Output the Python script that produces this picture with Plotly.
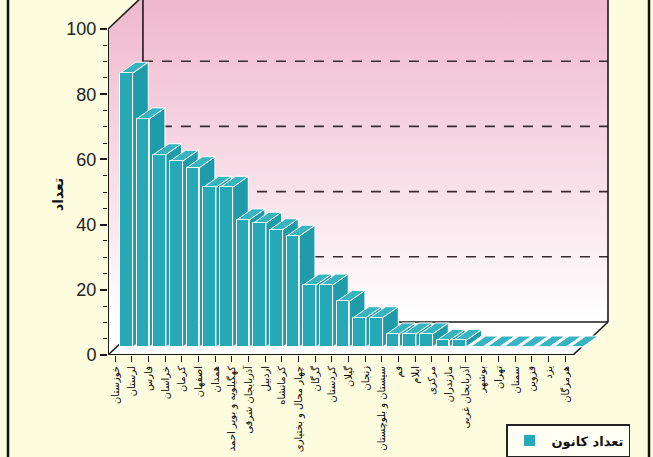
import plotly.graph_objects as go
from urllib.parse import quote

# ---------------- data ----------------
provinces = [
    "خوزستان", "لرستان", "فارس", "خراسان", "کرمان", "اصفهان", "همدان",
    "کهگیلویه و بویر احمد", "آذربایجان شرقی", "اردبیل", "کرمانشاه",
    "چهار محال و بختیاری", "گرگان", "کردستان", "گیلان", "زنجان",
    "سیستان و بلوچستان", "قم", "ایلام", "مرکزی", "مازندران",
    "آذربایجان غربی", "بوشهر", "تهران", "سمنان", "قزوین", "یزد", "هرمزگان",
]
counts = [84, 70, 59, 57, 55, 49, 49, 39, 38, 36, 34, 19, 19, 14, 9, 9,
          4, 4, 4, 2, 2, 0, 0, 0, 0, 0, 0, 0]
y_ticks = [0, 20, 40, 60, 80, 100]
wall_grid = [20, 40, 60, 80]
series_name = "تعداد کانون"
axis_title = "تعداد"

# ---------------- geometry / style ----------------
n = len(provinces)
xs = list(range(n))
X0, X1 = -1.098, 29.02
Y0, Y1 = 0.0, 108.9
BAR_W = 0.756
BASE = 2.45          # bars stand slightly behind the front edge of the floor
DX, DY = 0.94, 3.37  # depth offset of bar tops / sides
WALL_DX, WALL_DY = 2.096, 10.12
wall_left = X0 + WALL_DX
wall_right = 28.9
floor_front_right = wall_right - WALL_DX

CREAM = "#FEFCDE"
FRONT = "#25A9B7"
SIDE = "#1F9BA9"
TOP = "#38B4C1"
DARK = "#1a1a1a"

svg = ("<svg xmlns='http://www.w3.org/2000/svg' viewBox='0 0 100 100' "
       "preserveAspectRatio='none'><defs><linearGradient id='g' x1='0' y1='0' "
       "x2='0' y2='1'><stop offset='0' stop-color='#EFB7CB'/>"
       "<stop offset='0.35' stop-color='#F5D2DF'/>"
       "<stop offset='0.65' stop-color='#FAEAF0'/>"
       "<stop offset='0.9' stop-color='#FFFFFF'/></linearGradient></defs>"
       "<rect width='100' height='100' fill='url(#g)'/></svg>")
wall_src = "data:image/svg+xml;charset=utf-8," + quote(svg)


def poly(pts):
    return "M " + " L ".join(f"{a},{b}" for a, b in pts) + " Z"


shapes = []
# cream area above the left wall diagonal
shapes.append(dict(type="path", layer="between", xref="x", yref="y",
                   path=poly([(X0, 100), (X0, 130), (wall_left, 130), (wall_left, 100 + WALL_DY)]),
                   fillcolor=CREAM, line=dict(width=0)))
# floor
shapes.append(dict(type="path", layer="between", xref="x", yref="y",
                   path=poly([(X0, 0), (floor_front_right, 0), (wall_right, WALL_DY), (wall_left, WALL_DY)]),
                   fillcolor="white", line=dict(width=0)))
# cream area to the right of the box
shapes.append(dict(type="path", layer="between", xref="x", yref="y",
                   path=poly([(floor_front_right, -1), (X1 + 1, -1), (X1 + 1, 130),
                              (wall_right, 130), (wall_right, WALL_DY)]),
                   fillcolor=CREAM, line=dict(width=0)))
# dashed gridlines on the back wall
for g in wall_grid:
    shapes.append(dict(type="line", layer="between", xref="x", yref="y",
                       x0=wall_left, x1=wall_right, y0=WALL_DY + g, y1=WALL_DY + g,
                       line=dict(color="#3a2a30", width=1.6, dash="10px,9px")))
# box edges
edge = dict(color=DARK, width=1.6)
for (xa, ya, xb, yb) in [
    (wall_left, WALL_DY, wall_left, 130),
    (wall_right, WALL_DY, wall_right, 130),
    (wall_left, WALL_DY, wall_right, WALL_DY),
    (floor_front_right, 0, wall_right, WALL_DY),
    (X0, 0, wall_left, WALL_DY),
    (X0, 100, wall_left, 100 + WALL_DY),
]:
    shapes.append(dict(type="line", layer="between", xref="x", yref="y",
                       x0=xa, y0=ya, x1=xb, y1=yb, line=edge))
shapes.append(dict(type="line", layer="between", xref="x", yref="y",
                   x0=X0, y0=0, x1=X0, y1=100, line=dict(color=DARK, width=2)))
shapes.append(dict(type="line", layer="between", xref="x", yref="y",
                   x0=X0, y0=0, x1=floor_front_right, y1=0, line=dict(color=DARK, width=2)))

# 3-D sides and tops of the bars, from the data
for i, v in zip(xs, counts):
    L, R = i - BAR_W / 2, i + BAR_W / 2
    t = BASE + v
    shapes.append(dict(type="path", layer="between", xref="x", yref="y",
                       path=poly([(R, BASE), (R, t), (R + DX, t + DY), (R + DX, BASE + DY)]),
                       fillcolor=SIDE, line=dict(color="white", width=1)))
    shapes.append(dict(type="path", layer="between", xref="x", yref="y",
                       path=poly([(L, t), (R, t), (R + DX, t + DY), (L + DX, t + DY)]),
                       fillcolor=TOP, line=dict(color="white", width=1)))

# outer frame lines
PW, PH = 653 - 108 - 43, 355
for px in (8, 649):
    xp = (px - 108) / PW
    shapes.append(dict(type="line", layer="above", xref="paper", yref="paper",
                       x0=xp, x1=xp, y0=-0.35, y1=1.05, line=dict(color="#111", width=2.5)))

fig = go.Figure()
fig.add_trace(go.Bar(
    x=xs, y=counts, base=[BASE] * n, width=BAR_W, name=series_name,
    marker=dict(color=FRONT, line=dict(color="white", width=1)),
    showlegend=True,
))

fig.update_layout(
    width=653, height=457,
    margin=dict(l=108, r=43, t=0, b=102, autoexpand=False),
    paper_bgcolor=CREAM, plot_bgcolor=CREAM,
    showlegend=True,
    shapes=shapes,
    images=[dict(source=wall_src, xref="x", yref="y", x=X0, y=Y1 + 1,
                 sizex=wall_right - X0, sizey=Y1 + 1, xanchor="left", yanchor="top",
                 sizing="stretch", layer="below")],
    xaxis=dict(range=[X0, X1], tickvals=[i - 0.66 for i in xs], ticktext=provinces,
               tickangle=-90, ticks="outside", ticklen=6, tickwidth=1.3, tickcolor=DARK,
               showgrid=False, zeroline=False, showline=False, automargin=False,
               tickfont=dict(family="DejaVu Sans", size=10, color="#000")),
    yaxis=dict(range=[Y0, Y1], tickvals=y_ticks, ticks="outside", ticklen=7,
               tickwidth=1.5, tickcolor=DARK, showgrid=False, zeroline=False, showline=False,
               automargin=False,
               tickfont=dict(family="Liberation Sans", size=18, color="#222"),
               minor=dict(tickvals=[v for v in range(5, 100, 5) if v % 20], ticks="outside",
                          ticklen=4, tickwidth=1.3, tickcolor=DARK)),
    legend=dict(x=(506 - 108) / PW, y=(355 - 424) / PH, xanchor="left", yanchor="top",
                bgcolor="#FFFFF4", bordercolor="#222", borderwidth=1.5,
                itemwidth=34,
                font=dict(family="DejaVu Sans", size=13, color="#111", weight="bold")),
    annotations=[dict(text="<b>" + axis_title + "</b>", xref="paper", yref="paper",
                      x=(48 - 108) / PW, y=(355 - 195) / PH, showarrow=False, textangle=-90,
                      font=dict(family="DejaVu Sans", size=14, color="#111"))],
    bargap=0,
)

fig.write_html("out.html")
